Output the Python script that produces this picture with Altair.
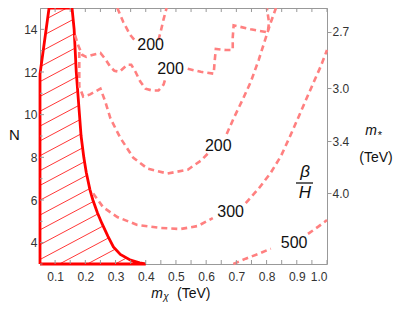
import numpy as np
import pandas as pd
import altair as alt

# ---------------- data ----------------
# excluded (hatched) region boundary, m_chi (TeV) vs N
excl_x = [0.05, 0.05, 0.08, 0.156, 0.163, 0.17, 0.178, 0.186, 0.195, 0.203, 0.215,
          0.225, 0.24, 0.255, 0.275, 0.293, 0.316, 0.35, 0.38, 0.4, 0.05]
excl_n = [3.0, 11.9, 15.0, 15.0, 14.0, 12.0, 10.5, 9.0, 8.0, 7.3, 6.5,
          6.0, 5.4, 4.9, 4.3, 3.8, 3.45, 3.18, 3.05, 3.0, 3.0]

# beta/H contours (each split where its label sits)
a1_x = [0.306, 0.326, 0.349, 0.369]
a1_n = [15.0, 14.33, 13.73, 13.40]
a2_x = [0.442, 0.449, 0.459, 0.469]
a2_n = [13.49, 13.86, 14.47, 15.0]

b1_x = [0.166, 0.176, 0.190, 0.203, 0.223, 0.250, 0.266, 0.283, 0.296, 0.313,
        0.339, 0.352, 0.366, 0.382, 0.399, 0.422, 0.442, 0.459, 0.465]
b1_n = [13.73, 13.26, 12.80, 12.71, 12.80, 12.89, 12.61, 12.24, 12.06, 12.01,
        12.34, 12.34, 12.01, 11.55, 11.22, 11.13, 11.13, 11.41, 11.69]
b2_x = [0.539, 0.582, 0.625, 0.628, 0.632, 0.665, 0.688, 0.688, 0.691, 0.748,
        0.804, 0.808, 0.801]
b2_n = [12.15, 12.01, 11.92, 12.47, 13.08, 13.03, 13.03, 13.63, 14.19, 14.00,
        13.86, 14.33, 15.0]

c1_x = [0.180, 0.180, 0.180, 0.193, 0.216, 0.250, 0.266, 0.283, 0.316, 0.359,
        0.406, 0.472, 0.539, 0.582, 0.605]
c1_n = [12.94, 12.01, 11.32, 10.85, 10.95, 11.22, 10.62, 9.83, 8.91, 7.98,
        7.47, 7.24, 7.42, 7.84, 8.17]
c2_x = [0.668, 0.691, 0.721, 0.748, 0.774, 0.798, 0.814, 0.831]
c2_n = [9.09, 9.83, 10.71, 11.55, 12.57, 13.63, 14.33, 15.0]

d1_x = [0.226, 0.259, 0.306, 0.372, 0.449, 0.515, 0.572, 0.622]
d1_n = [6.31, 5.66, 5.20, 4.83, 4.69, 4.64, 4.78, 5.15]
d2_x = [0.731, 0.774, 0.814, 0.848, 0.881, 0.914, 0.954, 0.980, 1.0]
d2_n = [5.85, 6.54, 7.28, 8.07, 9.09, 10.16, 11.46, 12.29, 13.03]

e1_x = [0.69, 0.731, 0.774, 0.814]
e1_n = [3.0, 3.25, 3.48, 3.72]
e2_x = [0.937, 0.970, 1.0]
e2_n = [4.41, 4.74, 5.06]

label_text = ["200", "200", "200", "300", "500"]
label_x = [0.416, 0.482, 0.640, 0.681, 0.891]
label_n = [13.26, 12.15, 8.55, 5.43, 4.0]

x_ticks = [0.1, 0.2, 0.3, 0.4, 0.5, 0.6, 0.7, 0.8, 0.9, 1.0]
x_minor = [0.15, 0.25, 0.35, 0.45, 0.55, 0.65, 0.75, 0.85, 0.95]
n_ticks = [4, 6, 8, 10, 12, 14]
n_minor = [3, 5, 7, 9, 11, 13, 15]
m_star_ticks = [2.7, 3.0, 3.4, 4.0]
m_star_k = 10.06          # N = (k / m_*)^2

hatch_slope = 7.53        # dN / dm_chi of hatch lines
hatch_step = 0.695        # spacing in N
hatch_anchor_n = 7.38     # one line passes (0.05, 7.38)

# ---------------- derived tables ----------------
def inside(px, py, poly_x, poly_y):
    res = np.zeros_like(px, dtype=bool)
    n = len(poly_x)
    j = n - 1
    for i in range(n):
        xi, yi, xj, yj = poly_x[i], poly_y[i], poly_x[j], poly_y[j]
        if yi != yj:
            cond = ((yi > py) != (yj > py)) & (px < (xj - xi) * (py - yi) / (yj - yi) + xi)
            res ^= cond
        j = i
    return res

hatch_rows = []
xs = np.linspace(0.0, 0.45, 4501)
for k in range(-12, 12):
    n0 = hatch_anchor_n + k * hatch_step
    ns = n0 + hatch_slope * (xs - 0.05)
    m = inside(xs, ns, excl_x, excl_n)
    if m.sum() > 1:
        xi = xs[m]
        ni = ns[m]
        hatch_rows.append({"x": xi[0], "n": ni[0], "x2": xi[-1], "n2": ni[-1]})
hatch_df = pd.DataFrame(hatch_rows)

excl_df = pd.DataFrame({"x": excl_x, "n": excl_n, "i": range(len(excl_x))})

segs = [("a1", a1_x, a1_n), ("a2", a2_x, a2_n), ("b1", b1_x, b1_n), ("b2", b2_x, b2_n),
        ("c1", c1_x, c1_n), ("c2", c2_x, c2_n), ("d1", d1_x, d1_n), ("d2", d2_x, d2_n),
        ("e1", e1_x, e1_n), ("e2", e2_x, e2_n)]
rows = []
for name, sx, sn in segs:
    for i, (a, b) in enumerate(zip(sx, sn)):
        rows.append({"seg": name, "i": i, "x": a, "n": b})
cont_df = pd.DataFrame(rows)

lab_df = pd.DataFrame({"t": label_text, "x": label_x, "n": label_n})

xt_df = pd.DataFrame({"x": x_ticks + x_minor})
nt_df = pd.DataFrame({"n": n_ticks})
nm_df = pd.DataFrame({"n": n_minor})
right_vals = [(m_star_k / m) ** 2 for m in m_star_ticks]

# ---------------- chart ----------------
W, H = 287, 256
FONT = "Liberation Sans"
xscale = alt.Scale(domain=[0.05, 1.0], nice=False, zero=False)
yscale = alt.Scale(domain=[3, 15], nice=False, zero=False)
xaxis = alt.Axis(values=x_ticks, format=".1f", labelPadding=7, title=None)
yaxis = alt.Axis(values=n_ticks, labelPadding=3, title=None)


def X(f):
    return alt.X(f, type="quantitative", scale=xscale, axis=xaxis)


def Y(f):
    return alt.Y(f, type="quantitative", scale=yscale, axis=yaxis)


hatch = alt.Chart(hatch_df).mark_rule(color="#ff2020", strokeWidth=0.9).encode(
    x=X("x"), y=Y("n"), x2="x2", y2="n2")

outline = alt.Chart(excl_df).mark_line(color="#ff0000", strokeWidth=2.8, strokeJoin="miter").encode(
    x=X("x"), y=Y("n"), order="i:Q")

contours = alt.Chart(cont_df).mark_line(color="#ff8080", strokeWidth=2.6,
                                        strokeDash=[6, 4]).encode(
    x=X("x"), y=Y("n"), detail="seg:N", order="i:Q")

labels = alt.Chart(lab_df).mark_text(font=FONT, fontSize=16, color="#111",
                                     baseline="middle", align="center").encode(
    x=X("x"), y=Y("n"), text="t:N")

tick_bottom = alt.Chart(xt_df).mark_rule(color="#999999", strokeWidth=1).encode(
    x=X("x"), y=alt.value(H), y2=alt.value(H - 4))
tick_top = alt.Chart(xt_df).mark_rule(color="#999999", strokeWidth=1).encode(
    x=X("x"), y=alt.value(0), y2=alt.value(4))
tick_left = alt.Chart(nt_df).mark_rule(color="#999999", strokeWidth=1).encode(
    y=Y("n"), x=alt.value(0), x2=alt.value(4))
tick_left_minor = alt.Chart(nm_df).mark_rule(color="#999999", strokeWidth=1).encode(
    y=Y("n"), x=alt.value(0), x2=alt.value(2.5))

one = pd.DataFrame({"a": [0]})


def txt(s, px, py, size=14, italic=False, align="center"):
    kw = dict(font=FONT, fontSize=size, color="#111", align=align, baseline="alphabetic")
    if italic:
        kw["fontStyle"] = "italic"
    return alt.Chart(one).mark_text(**kw).encode(
        x=alt.value(px), y=alt.value(py), text=alt.value(s))


annots = [
    txt("N", -31, 132, size=15, align="left"),
    txt("m", 117, 290, size=14, italic=True),
    txt("χ", 126, 292, size=10, italic=True),
    txt("(TeV)", 137, 290, size=14, align="left"),
    txt("m", 331, 127, size=14, italic=True),
    txt("*", 340, 131, size=11),
    txt("(TeV)", 336, 154, size=14),
    txt("β", 265, 169, size=17, italic=True),
    txt("H", 265, 190, size=17, italic=True),
]
bar = alt.Chart(one).mark_rule(color="#111", strokeWidth=1.3).encode(
    x=alt.value(256), x2=alt.value(273), y=alt.value(175))

right = alt.Chart(lab_df).mark_point(opacity=0).encode(
    x=X("x"),
    y=alt.Y("n", type="quantitative", scale=yscale,
            axis=alt.Axis(orient="right", values=right_vals,
                          labelExpr="format(" + str(m_star_k) + "/sqrt(datum.value), '.1f')",
                          ticks=True, tickSize=4, tickColor="#999999", tickWidth=1,
                          labelPadding=1, title=None)))

main = alt.layer(hatch, outline, contours, labels, tick_bottom, tick_top,
                 tick_left, tick_left_minor, bar, *annots)

chart = alt.layer(main, right).resolve_scale(y="independent").properties(
    width=W, height=H,
    autosize=alt.AutoSizeParams(type="none"),
    padding={"left": 32, "top": 0, "right": 74, "bottom": 44},
).configure_view(stroke="#999999", strokeWidth=1).configure_axis(
    labelFont=FONT, labelFontSize=12, labelColor="#333333",
    grid=False, domain=False, ticks=False)

chart.save("out.html", embed_options={"renderer": "svg", "actions": False})
